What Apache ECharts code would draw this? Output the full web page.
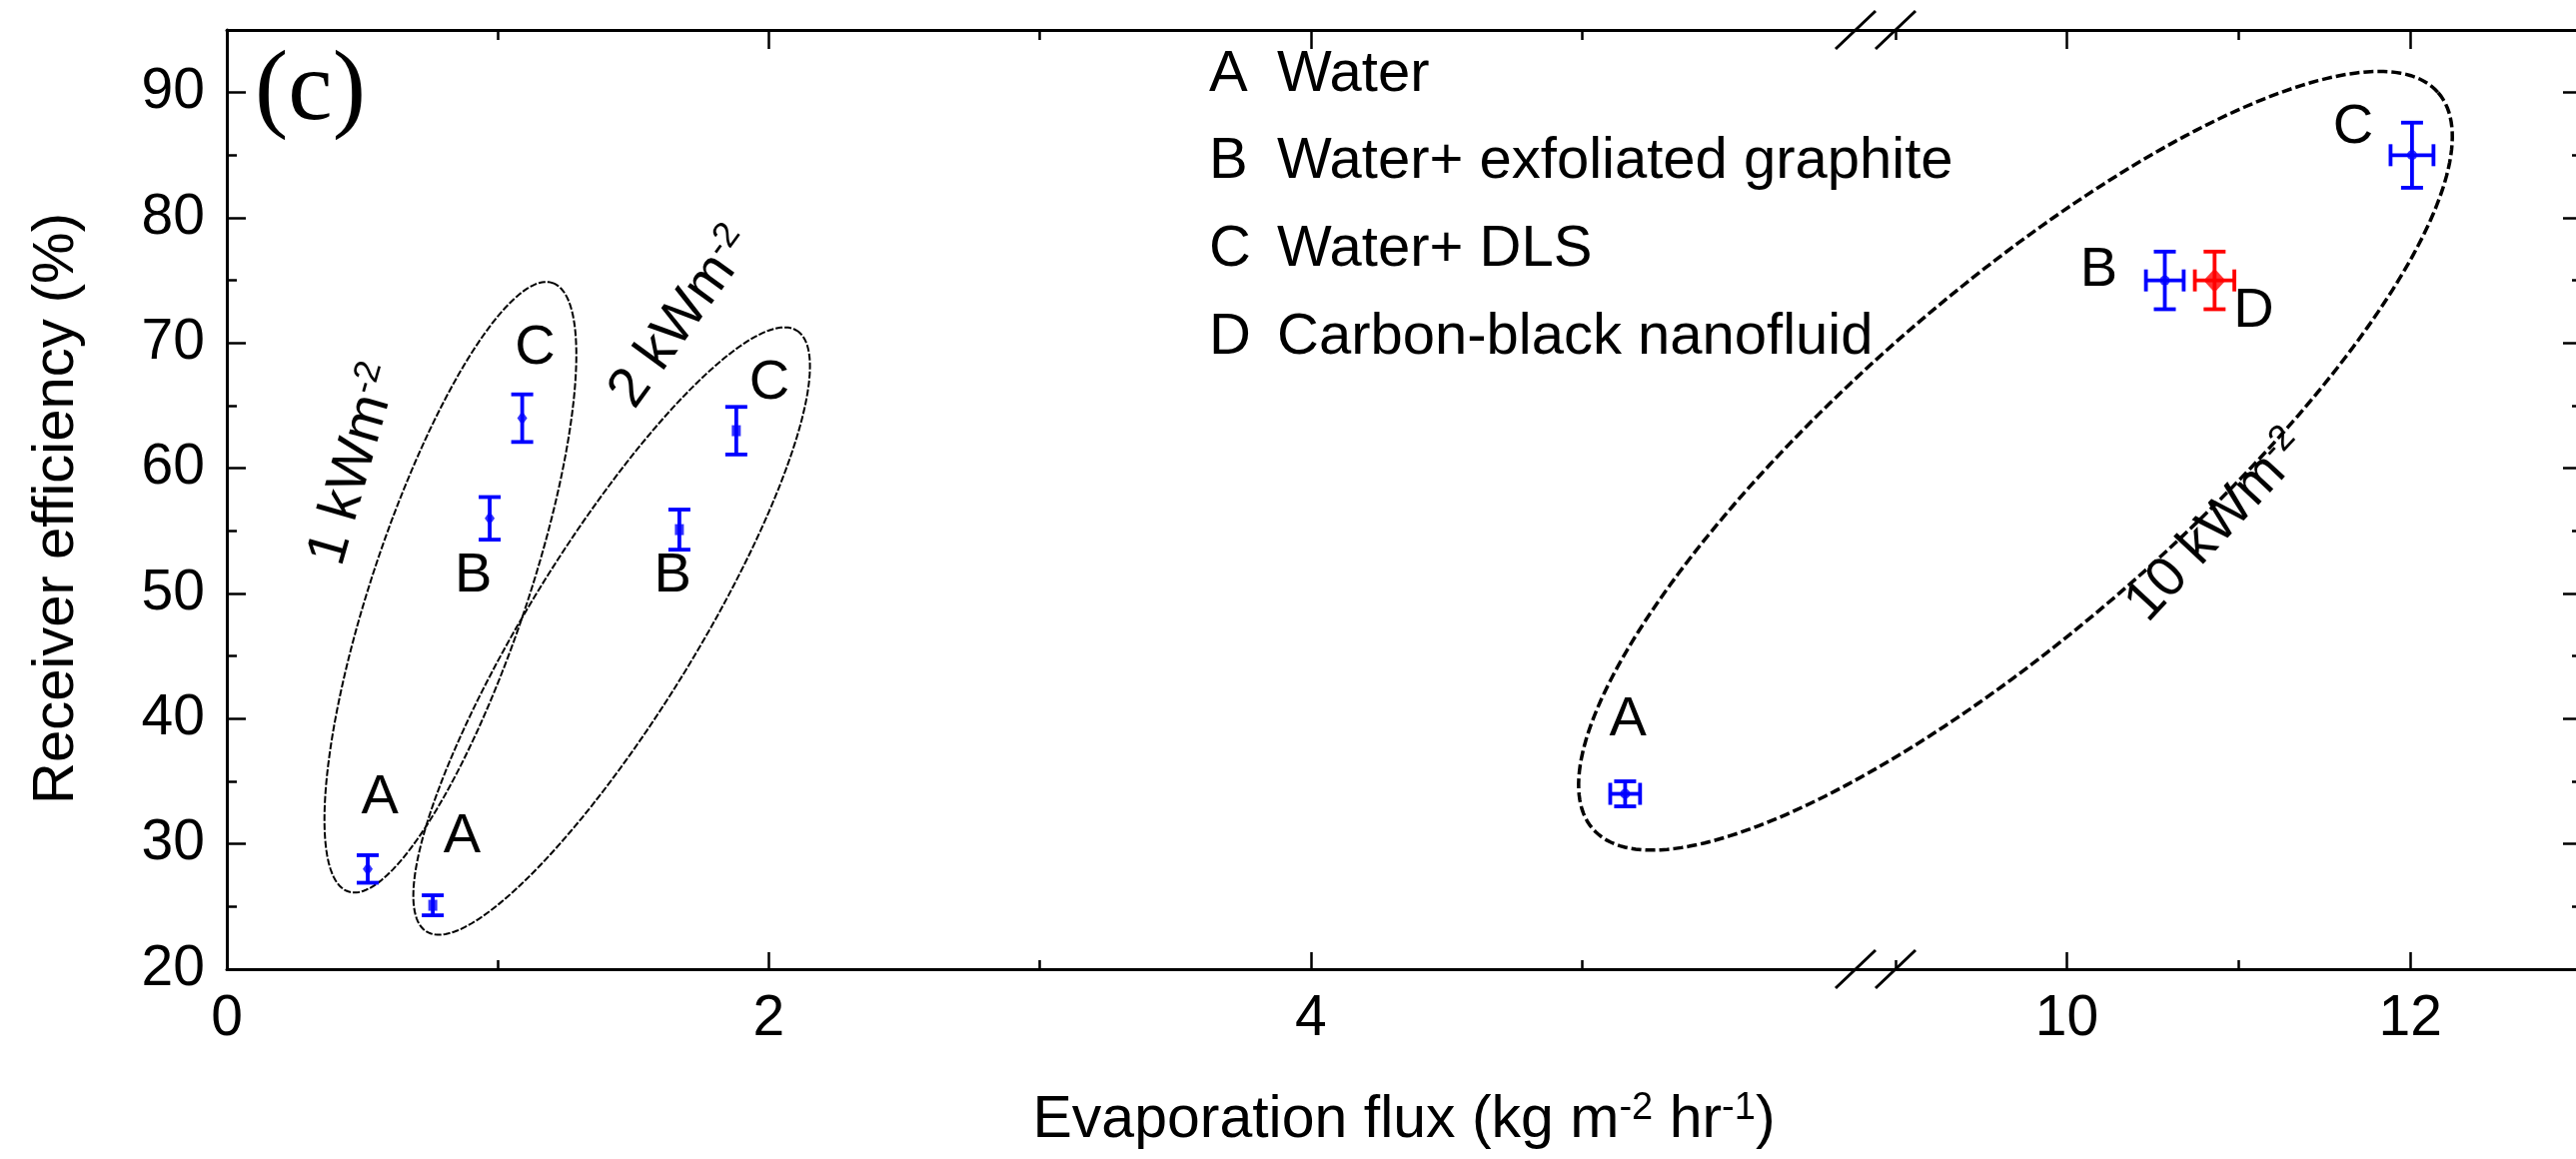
<!DOCTYPE html>
<html><head><meta charset="utf-8">
<script src="https://cdn.jsdelivr.net/npm/echarts@6/dist/echarts.min.js"></script>
<style>html,body{margin:0;padding:0;background:#fff}#c{width:2578px;height:1160px}</style>
</head><body><div id="c"></div>
<script>
// ---------------- data ----------------
const letters3 = ['A', 'B', 'C'];
const flux1kW = [0.52, 0.97, 1.09];
const eff1kW = [28.0, 56.0, 64.0];
const effErr1kW = [1.1, 1.7, 1.9];

const flux2kW = [0.76, 1.67, 1.88];
const eff2kW = [25.1, 55.1, 63.0];
const effErr2kW = [0.8, 1.6, 1.9];

const letters10kW = ['A', 'B', 'C', 'D'];
const flux10kW = [5.16, 10.57, 12.01, 10.86];
const eff10kW = [34.0, 75.0, 85.0, 75.0];
const effErr10kW = [1.0, 2.3, 2.6, 2.3];
const fluxErr10kW = [0.055, 0.11, 0.125, 0.115];

// broken x axis ranges and ticks
const xLeftRange = [0, 6.084];
const xRightRange = [8.885, 13];
const yRange = [20, 95];
const xMajorLeft = [0, 2, 4];
const xMinorLeft = [1, 3, 5];
const xMajorRight = [10, 12];
const xMinorRight = [9, 11];
const yMajor = [20, 30, 40, 50, 60, 70, 80, 90];
const yMinor = [25, 35, 45, 55, 65, 75, 85];

const legendLetters = ['A', 'B', 'C', 'D'];
const legendNames = ['Water', 'Water+ exfoliated graphite', 'Water+ DLS', 'Carbon-black nanofluid'];

// annotation ellipses (data units): centre, end of major axis, minor/major ratio
const ellipseCenters = [[0.825, 50.5], [1.42, 47.0], [9.70, 60.6]];
const ellipseTips = [[1.202, 74.8], [2.103, 71.0], [12.162, 90.0]];
const ellipseRatios = [0.242, 0.237, 0.30];
const ellipseGrid = [0, 0, 1];

// letter labels next to points (data units)
const ptLabelText = ['A', 'A', 'B', 'C', 'B', 'C', 'A', 'B', 'C', 'D'];
const ptLabelPos = [[0.565, 33.7], [0.868, 30.6], [0.91, 51.4], [1.137, 69.55], [1.645, 51.4], [2.002, 66.8], [5.17, 39.9], [10.185, 75.8], [11.667, 87.25], [11.088, 72.5]];

// irradiance labels
const irrText = ['1 kWm', '2 kWm', '10 kWm'];
const irrPos = [[0.472, 60.3], [1.681, 72.0], [10.875, 55.35]];
const irrRot = [74, 54, 47];

// ---------------- build ----------------
const FONT = '"Liberation Sans", Arial, sans-serif';
const BLUE = '#0000ff', RED = '#ff0000';
const splitAt = xLeftRange[1];
const inLeft = x => x <= splitAt;

// point records
const pts = [];
flux1kW.forEach((x, i) => pts.push({x, y: eff1kW[i], xe: 0, ye: effErr1kW[i], grp: '1', L: letters3[i]}));
flux2kW.forEach((x, i) => pts.push({x, y: eff2kW[i], xe: 0, ye: effErr2kW[i], grp: '2', L: letters3[i]}));
flux10kW.forEach((x, i) => pts.push({x, y: eff10kW[i], xe: fluxErr10kW[i], ye: effErr10kW[i], grp: '10', L: letters10kW[i]}));
pts.forEach(p => { p.color = p.L === 'D' ? RED : BLUE; });

const ptsL = pts.filter(p => inLeft(p.x));
const ptsR = pts.filter(p => !inLeft(p.x));

function axisX(gridIndex, position, range, ticks, len, line, labels) {
  return {
    type: 'value', gridIndex, position, min: range[0], max: range[1],
    axisLine: {show: line, onZero: false, lineStyle: {color: '#000', width: 3}},
    axisTick: {show: true, inside: true, length: len, customValues: ticks, lineStyle: {color: '#000', width: 2.5}},
    axisLabel: labels ? {show: true, customValues: ticks, fontSize: 57, fontFamily: FONT, color: '#000', margin: 22} : {show: false},
    splitLine: {show: false}, axisPointer: {show: false}
  };
}
function axisY(gridIndex, position, ticks, len, line, labels) {
  return {
    type: 'value', gridIndex, position, min: yRange[0], max: yRange[1],
    axisLine: {show: line, onZero: false, lineStyle: {color: '#000', width: 3}},
    axisTick: {show: true, inside: true, length: len, customValues: ticks, lineStyle: {color: '#000', width: 2.5}},
    axisLabel: labels ? {show: true, customValues: ticks, fontSize: 57, fontFamily: FONT, color: '#000', margin: 22} : {show: false},
    splitLine: {show: false}, axisPointer: {show: false}
  };
}

const xAxes = [
  axisX(0, 'bottom', xLeftRange, xMajorLeft, 17, true, true),
  axisX(0, 'bottom', xLeftRange, xMinorLeft, 9, false, false),
  axisX(0, 'top', xLeftRange, xMajorLeft, 19, true, false),
  axisX(0, 'top', xLeftRange, xMinorLeft, 10, false, false),
  axisX(1, 'bottom', xRightRange, xMajorRight, 17, true, true),
  axisX(1, 'bottom', xRightRange, xMinorRight, 9, false, false),
  axisX(1, 'top', xRightRange, xMajorRight, 19, true, false),
  axisX(1, 'top', xRightRange, xMinorRight, 10, false, false)
];
const yAxes = [
  axisY(0, 'left', yMajor, 19, true, true),
  axisY(0, 'left', yMinor, 10, false, false),
  axisY(1, 'right', yMajor, 19, true, false),
  axisY(1, 'right', yMinor, 10, false, false)
];
const xIdx = [0, 4], yIdx = [0, 2];

function errRender(list) {
  return function (params, api) {
    const p = list[params.dataIndex];
    const c = api.coord([p.x, p.y]);
    const cap = 11, lw = 3.8;
    const ln = (x1, y1, x2, y2) => ({type: 'line', shape: {x1, y1, x2, y2}, style: {stroke: p.color, lineWidth: lw}});
    const ch = [];
    if (p.ye > 0) {
      const t = api.coord([p.x, p.y + p.ye]), b = api.coord([p.x, p.y - p.ye]);
      ch.push(ln(c[0], t[1], c[0], b[1]), ln(c[0] - cap, t[1], c[0] + cap, t[1]), ln(c[0] - cap, b[1], c[0] + cap, b[1]));
    }
    if (p.xe > 0) {
      const l = api.coord([p.x - p.xe, p.y]), r = api.coord([p.x + p.xe, p.y]);
      ch.push(ln(l[0], c[1], r[0], c[1]), ln(l[0], c[1] - cap, l[0], c[1] + cap), ln(r[0], c[1] - cap, r[0], c[1] + cap));
    }
    return {type: 'group', children: ch};
  };
}

function symbolOf(p) {
  if (p.L === 'D') return {symbol: 'diamond', symbolSize: [22, 24]};
  if (p.grp === '1') return {symbol: 'diamond', symbolSize: [10, 14]};
  if (p.grp === '2') return {symbol: 'rect', symbolSize: [9, 11]};
  return {symbol: 'circle', symbolSize: 10};
}

const series = [];
[ptsL, ptsR].forEach((list, g) => {
  series.push({
    type: 'custom', xAxisIndex: xIdx[g], yAxisIndex: yIdx[g], clip: false, z: 4,
    data: list.map(p => [p.x, p.y, p.xe, p.ye]), encode: {x: 0, y: 1},
    renderItem: errRender(list), silent: true
  });
  series.push({
    type: 'scatter', xAxisIndex: xIdx[g], yAxisIndex: yIdx[g], z: 5, silent: true,
    data: list.map(p => Object.assign({value: [p.x, p.y], itemStyle: {color: p.color}}, symbolOf(p)))
  });
});

// ellipses
[0, 1].forEach(g => {
  const ids = ellipseCenters.map((c, i) => i).filter(i => ellipseGrid[i] === g);
  series.push({
    type: 'custom', xAxisIndex: xIdx[g], yAxisIndex: yIdx[g], clip: false, z: 2, silent: true,
    data: ids.map(i => ellipseCenters[i]), encode: {x: 0, y: 1},
    renderItem: function (params, api) {
      const i = ids[params.dataIndex];
      const c = api.coord(ellipseCenters[i]), t = api.coord(ellipseTips[i]);
      const dx = t[0] - c[0], dy = t[1] - c[1];
      const a = Math.hypot(dx, dy), b = a * ellipseRatios[i], th = Math.atan2(dy, dx);
      const pts = [];
      for (let k = 0; k <= 240; k++) {
        const u = k / 240 * Math.PI * 2;
        const ex = a * Math.cos(u), ey = b * Math.sin(u);
        pts.push([c[0] + ex * Math.cos(th) - ey * Math.sin(th), c[1] + ex * Math.sin(th) + ey * Math.cos(th)]);
      }
      const big = i === 2;
      return {type: 'polyline', shape: {points: pts},
        style: {stroke: '#000', fill: 'none', lineWidth: big ? 3.5 : 2, lineDash: big ? [10, 4] : [7, 2]}};
    }
  });
});

// text annotations
const richSup = {
  n: {fontSize: 56, fontFamily: FONT, color: '#000', lineHeight: 60},
  s: {fontSize: 36, fontFamily: FONT, color: '#000', lineHeight: 36, verticalAlign: 'top'}
};
[0, 1].forEach(g => {
  const items = [];
  ptLabelPos.forEach((p, i) => { if ((g === 0) === inLeft(p[0])) items.push({pos: p, text: '{n|' + ptLabelText[i] + '}', rot: 0}); });
  irrPos.forEach((p, i) => { if ((g === 0) === inLeft(p[0])) items.push({pos: p, text: '{n|' + irrText[i] + '}{s|-2}', rot: irrRot[i]}); });
  series.push({
    type: 'custom', xAxisIndex: xIdx[g], yAxisIndex: yIdx[g], clip: false, z: 6, silent: true,
    data: items.map(it => it.pos), encode: {x: 0, y: 1},
    renderItem: function (params, api) {
      const it = items[params.dataIndex];
      const c = api.coord(it.pos);
      return {type: 'text', x: c[0], y: c[1], rotation: it.rot * Math.PI / 180,
        style: {text: it.text, rich: richSup, align: 'center', verticalAlign: 'middle', fill: '#000'}};
    }
  });
});

// graphics: legend text, panel tag, titles, axis-break marks
const graphic = [];
legendLetters.forEach((L, i) => {
  const yc = 74.6 + i * 87.7;
  graphic.push({type: 'text', x: 1210, y: yc, style: {text: L, font: '58px ' + FONT, fill: '#000', align: 'left', verticalAlign: 'middle'}});
  graphic.push({type: 'text', x: 1278, y: yc, style: {text: legendNames[i], font: '58px ' + FONT, fill: '#000', align: 'left', verticalAlign: 'middle'}});
});
graphic.push({type: 'text', x: 255, y: 93, style: {text: '(c)', font: '100px "Liberation Serif", "Times New Roman", serif', fill: '#000', align: 'left', verticalAlign: 'middle'}});
graphic.push({type: 'text', x: 1405, y: 1122, style: {
  text: '{n|Evaporation flux (kg m}{s|-2}{n| hr}{s|-1}{n|)}',
  rich: {n: {fontSize: 59, fontFamily: FONT, color: '#000', lineHeight: 62}, s: {fontSize: 38, fontFamily: FONT, color: '#000', lineHeight: 38, verticalAlign: 'top'}},
  align: 'center', verticalAlign: 'middle'}});
graphic.push({type: 'text', x: 57, y: 509, rotation: Math.PI / 2, style: {text: 'Receiver efficiency (%)', font: '58px ' + FONT, fill: '#000', align: 'center', verticalAlign: 'middle'}});
[30, 970].forEach(yy => {
  [1857, 1897].forEach(xx => {
    graphic.push({type: 'line', shape: {x1: xx - 20, y1: yy + 19, x2: xx + 20, y2: yy - 19}, style: {stroke: '#000', lineWidth: 3}, z: 100});
  });
});

const chart = echarts.init(document.getElementById('c'), null, {renderer: 'canvas'});
chart.setOption({
  animation: false,
  backgroundColor: '#fff',
  grid: [
    {left: 227, top: 30, width: 1650, height: 940, containLabel: false, outerBoundsMode: 'none'},
    {left: 1877, top: 30, width: 707, height: 940, containLabel: false, outerBoundsMode: 'none'}
  ],
  xAxis: xAxes,
  yAxis: yAxes,
  series,
  graphic
});
</script></body></html>
